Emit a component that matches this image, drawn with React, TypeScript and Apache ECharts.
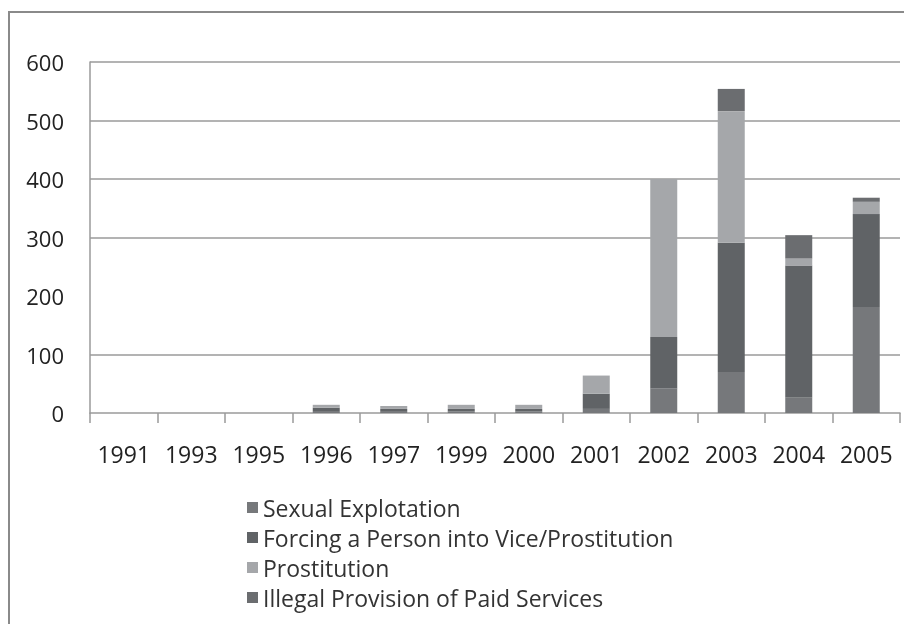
import React, { useEffect, useRef } from "react";
import * as echarts from "echarts";

const years = ["1991", "1993", "1995", "1996", "1997", "1999", "2000", "2001", "2002", "2003", "2004", "2005"];
const sexualExploitation = [0, 0, 0, 2, 2, 3, 3, 7, 42, 70, 27, 181];
const forcing = [0, 0, 0, 7, 5, 4, 4, 26, 88, 221, 225, 159];
const prostitution = [0, 0, 0, 5, 5, 7, 7, 31, 270, 225, 12, 21];
const illegalServices = [0, 0, 0, 0, 0, 0, 0, 0, 0, 38, 40, 7];
const gridValues = [100, 300, 400, 500, 600];

const seriesNames = [
  "Sexual Explotation",
  "Forcing a Person into Vice/Prostitution",
  "Prostitution",
  "Illegal Provision of Paid Services",
];
const colors = ["#76787b", "#606366", "#a5a7aa", "#6b6d70"];

export default function App() {
  const ref = useRef<HTMLDivElement>(null);
  useEffect(() => {
    if (!ref.current) return;
    const chart = echarts.init(ref.current, undefined, { renderer: "svg" });
    const font = "'Open Sans', sans-serif";
    const dataSets = [sexualExploitation, forcing, prostitution, illegalServices];
    chart.setOption({
      animation: false,
      color: colors,
      textStyle: { fontFamily: font },
      grid: { left: 90, right: 4, top: 62, bottom: 211, containLabel: false },
      graphic: [
        {
          type: "rect",
          shape: { x: 9, y: 12, width: 910, height: 630 },
          style: { fill: "none", stroke: "#8a8a8a", lineWidth: 2 },
          silent: true,
        },
      ],
      legend: {
        orient: "vertical",
        left: 242,
        top: 491,
        itemWidth: 11,
        itemHeight: 11,
        itemGap: 7,
        icon: "rect",
        data: seriesNames,
        textStyle: { fontSize: 23, color: "#333", fontFamily: font },
      },
      xAxis: {
        type: "category",
        data: years,
        axisLine: { lineStyle: { color: "#9a9a9a", width: 1.5 } },
        axisTick: { show: true, length: 10, lineStyle: { color: "#9a9a9a", width: 1.5 } },
        axisLabel: { fontSize: 23, color: "#222", margin: 29, interval: 0, fontFamily: font },
      },
      yAxis: {
        type: "value",
        min: 0,
        max: 600,
        interval: 100,
        splitLine: { show: false },
        axisLine: { show: true, lineStyle: { color: "#9a9a9a", width: 1.5 } },
        axisTick: { show: false },
        axisLabel: { fontSize: 22, color: "#222", margin: 26, fontFamily: font },
      },
      series: dataSets.map((d, i) => ({
        name: seriesNames[i],
        type: "bar",
        stack: "total",
        barWidth: "40%",
        data: d,
        itemStyle: { color: colors[i] },
        markLine:
          i === 0
            ? {
                silent: true,
                symbol: "none",
                label: { show: false },
                lineStyle: { color: "#9a9a9a", type: "solid", width: 1.5 },
                data: gridValues.map((v) => ({ yAxis: v })),
                z: 0,
              }
            : undefined,
      })),
    });
    return () => chart.dispose();
  }, []);
  return <div ref={ref} style={{ position: "fixed", left: 0, top: 0, width: 904, height: 624 }} />;
}
